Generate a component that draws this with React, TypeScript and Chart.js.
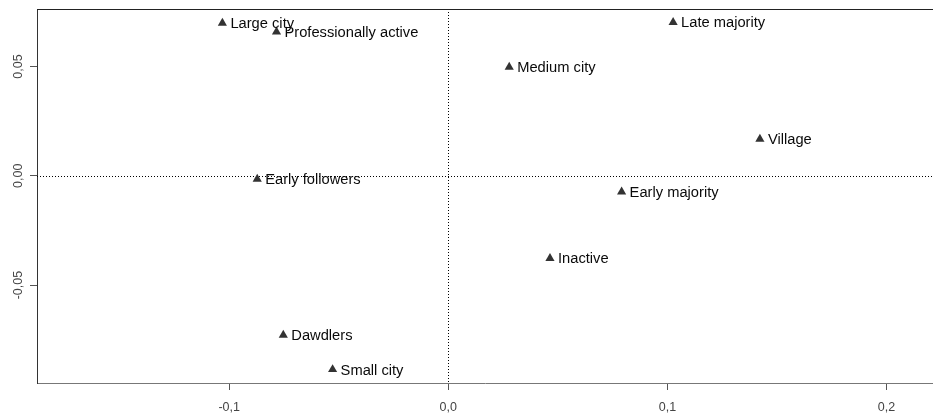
import React, { useEffect, useRef } from "react";
import { Chart, registerables } from "chart.js";

Chart.register(...registerables);

const categories = [
  "Large city",
  "Professionally active",
  "Medium city",
  "Late majority",
  "Village",
  "Early followers",
  "Early majority",
  "Inactive",
  "Dawdlers",
  "Small city",
];
const xValues = [-0.1031, -0.0784, 0.0278, 0.1026, 0.1422, -0.0872, 0.0791, 0.0464, -0.0753, -0.0528];
const yValues = [0.0699, 0.0659, 0.0497, 0.0702, 0.0168, -0.0015, -0.0073, -0.0378, -0.0729, -0.0886];

const xTicks = [-0.1, 0, 0.1, 0.2];
const xTickLabels = ["-0,1", "0,0", "0,1", "0,2"];
const yTicks = [-0.05, 0, 0.05];
const yTickLabels = ["-0,05", "0,00", "0,05"];

const xMin = -0.1877;
const xMax = 0.2212;
const yMin = -0.0948;
const yMax = 0.0763;

const FONT = "'Liberation Sans', Arial, Helvetica, sans-serif";

const framePlugin = {
  id: "frame",
  beforeDatasetsDraw(chart: any) {
    const { ctx, chartArea, scales } = chart;
    const x0 = scales.x.getPixelForValue(0);
    const y0 = scales.y.getPixelForValue(0);
    ctx.save();
    ctx.strokeStyle = "#000";
    ctx.lineWidth = 1;
    ctx.setLineDash([1, 2]);
    ctx.beginPath();
    ctx.moveTo(chartArea.left, Math.round(y0) + 0.5);
    ctx.lineTo(chartArea.right, Math.round(y0) + 0.5);
    ctx.moveTo(Math.round(x0) + 0.5, chartArea.top);
    ctx.lineTo(Math.round(x0) + 0.5, chartArea.bottom);
    ctx.stroke();
    ctx.setLineDash([]);
    ctx.strokeStyle = "#222";
    ctx.beginPath();
    ctx.moveTo(chartArea.left, chartArea.top + 0.5);
    ctx.lineTo(chartArea.right, chartArea.top + 0.5);
    ctx.stroke();
    ctx.restore();
  },
  afterDatasetsDraw(chart: any) {
    const { ctx } = chart;
    const meta = chart.getDatasetMeta(0);
    ctx.save();
    ctx.fillStyle = "#0a0a0a";
    ctx.font = `14.7px ${FONT}`;
    ctx.textAlign = "left";
    ctx.textBaseline = "middle";
    meta.data.forEach((el: any, i: number) => {
      ctx.fillText(categories[i], el.x + 8, el.y + 1);
    });
    ctx.restore();
  },
};

export default function App() {
  const ref = useRef<HTMLCanvasElement>(null);
  useEffect(() => {
    if (!ref.current) return;
    const chart = new Chart(ref.current, {
      type: "scatter",
      data: {
        datasets: [
          {
            data: xValues.map((x, i) => ({ x, y: yValues[i] })),
            pointStyle: "triangle",
            pointRadius: 5.3,
            backgroundColor: "#333",
            borderColor: "#333",
            borderWidth: 0,
            clip: false,
          },
        ],
      },
      options: {
        responsive: false,
        animation: false,
        devicePixelRatio: 1,
        layout: { autoPadding: false, padding: { top: 9, right: 0, left: 0, bottom: 0 } },
        plugins: { legend: { display: false }, tooltip: { enabled: false } },
        scales: {
          x: {
            type: "linear",
            min: xMin,
            max: xMax,
            afterFit: (s: any) => {
              s.height = 33;
              s.paddingLeft = 0;
              s.paddingRight = 0;
            },
            afterBuildTicks: (s: any) => {
              s.ticks = xTicks.map((v) => ({ value: v }));
            },
            grid: { drawOnChartArea: false, drawTicks: true, tickLength: 7, color: "#555" },
            border: { display: true, color: "#777", width: 1 },
            ticks: {
              padding: 10,
              color: "#444",
              font: { family: FONT, size: 12.5 },
              maxRotation: 0,
              minRotation: 0,
              callback: (v: any) => {
                const i = xTicks.findIndex((t) => Math.abs(t - Number(v)) < 1e-9);
                return i >= 0 ? xTickLabels[i] : "";
              },
            },
          },
          y: {
            type: "linear",
            min: yMin,
            max: yMax,
            afterFit: (s: any) => {
              s.width = 37;
              s.paddingTop = 0;
              s.paddingBottom = 0;
            },
            afterBuildTicks: (s: any) => {
              s.ticks = yTicks.map((v) => ({ value: v }));
            },
            grid: { drawOnChartArea: false, drawTicks: true, tickLength: 7, color: "#555" },
            border: { display: true, color: "#333", width: 1 },
            ticks: {
              padding: -3,
              color: "#444",
              crossAlign: "center",
              minRotation: 90,
              maxRotation: 90,
              font: { family: FONT, size: 12.5 },
              callback: (v: any) => {
                const i = yTicks.findIndex((t) => Math.abs(t - Number(v)) < 1e-9);
                return i >= 0 ? yTickLabels[i] : "";
              },
            },
          },
        },
      },
      plugins: [framePlugin],
    });
    return () => chart.destroy();
  }, []);
  return (
    <div style={{ position: "fixed", left: 0, top: 0, width: 933, height: 416, background: "#fff" }}>
      <canvas ref={ref} width={933} height={416} style={{ display: "block" }} />
    </div>
  );
}
